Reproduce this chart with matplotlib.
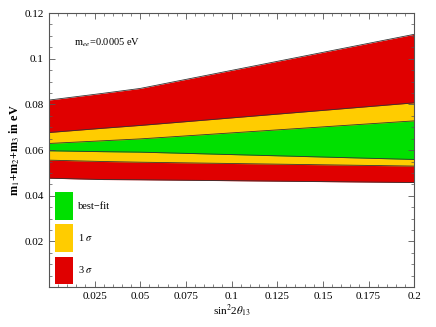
import matplotlib
matplotlib.use("Agg")
import matplotlib.pyplot as plt
from matplotlib.patches import Patch
from matplotlib.ticker import MultipleLocator

plt.rcParams["font.family"] = ["Liberation Serif", "DejaVu Serif"]
plt.rcParams["mathtext.fontset"] = "stix"

# sin^2 2theta_13 grid
s2t = [0.0, 0.03, 0.05, 0.2]

# band boundaries (sum of masses in eV)
red_top = [0.0819, 0.0849, 0.0870, 0.1107]
y1_top = [0.0677, 0.0696, 0.0708, 0.0807]
bf_top = [0.0629, 0.0641, 0.0649, 0.0728]
bf_bot = [0.0597, 0.0593, 0.0591, 0.0559]
y1_bot = [0.0556, 0.0550, 0.0547, 0.0530]
red_bot = [0.0477, 0.0471, 0.0470, 0.0458]

RED = "#e00000"
YEL = "#ffcc00"
GRN = "#00e000"
EDGE = "#333333"

fig = plt.figure(figsize=(4.36, 3.27), dpi=100)
ax = fig.add_axes([0.112, 0.122, 0.838, 0.838])

ax.fill_between(s2t, red_bot, red_top, color=RED, lw=0)
ax.fill_between(s2t, y1_bot, y1_top, color=YEL, lw=0)
ax.fill_between(s2t, bf_bot, bf_top, color=GRN, lw=0)
for c in [red_top, y1_top, bf_top, bf_bot, y1_bot, red_bot]:
    ax.plot(s2t, c, color=EDGE, lw=0.6)

ax.set_xlim(0, 0.2)
ax.set_ylim(0, 0.12)
ax.set_xticks([0.025, 0.05, 0.075, 0.1, 0.125, 0.15, 0.175, 0.2])
ax.set_xticklabels(["0.025", "0.05", "0.075", "0.1", "0.125", "0.15", "0.175", "0.2"])
ax.set_yticks([0.02, 0.04, 0.06, 0.08, 0.1, 0.12])
ax.set_yticklabels(["0.02", "0.04", "0.06", "0.08", "0.1", "0.12"])
ax.xaxis.set_minor_locator(MultipleLocator(0.005))
ax.yaxis.set_minor_locator(MultipleLocator(0.005))
ax.tick_params(which="both", direction="in", top=True, right=True,
               labelsize=8, color="#555555")
ax.tick_params(which="major", length=4, width=0.6)
ax.tick_params(which="minor", length=2, width=0.5)
for sp in ax.spines.values():
    sp.set_color("#555555")
    sp.set_linewidth(0.8)

ax.set_xlabel(r"sin$^2$2$\theta_{13}$", fontsize=8, labelpad=1)
ax.set_ylabel(r"m$_1$+m$_2$+m$_3$ in eV", fontsize=8.8, fontweight="bold", labelpad=2)

ax.text(0.0136, 0.1069, r"m$_{ee}$=0.0005 eV", fontsize=7.5, va="center")

handles = [Patch(facecolor=GRN, edgecolor="none"),
           Patch(facecolor=YEL, edgecolor="none"),
           Patch(facecolor=RED, edgecolor="none")]
labels = ["best\u2212fit", r"1 $\sigma$", r"3 $\sigma$"]
ax.legend(handles, labels, loc="lower left", bbox_to_anchor=(0.016, 0.01),
          frameon=False, borderpad=0, borderaxespad=0, fontsize=7.5,
          handlelength=1.8, handleheight=3.72, labelspacing=0.45,
          handletextpad=0.4)

fig.savefig("out.png", dpi=100)
